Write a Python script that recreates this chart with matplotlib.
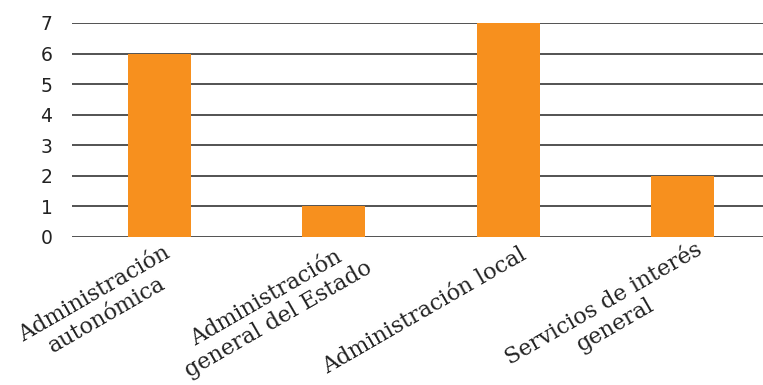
import matplotlib.pyplot as plt
from matplotlib import transforms

# Datos
categorias = ['Administración\nautonómica',
              'Administración\ngeneral del Estado',
              'Administración local',
              'Servicios de interés\ngeneral']
valores = [6, 1, 7, 2]

COLOR_BARRA = '#F7901E'
COLOR_GRID = '#444444'

# ajuste fino de la posición de cada etiqueta (px)
AJUSTE_ETIQUETAS = [(4, 0), (19, 6), (11, -2), (12, 3)]

fig = plt.figure(figsize=(7.63, 3.85), dpi=100)
ax = fig.add_axes([72 / 763, 1 - 237 / 385, (763 - 72) / 763, (237 - 23) / 385])

x = range(len(categorias))
ax.bar(x, valores, width=0.36, color=COLOR_BARRA, zorder=3)

ax.set_ylim(0, 7)
ax.set_xlim(-0.5, 3.46)
ax.set_yticks(range(0, 8))
ax.yaxis.grid(True, color=COLOR_GRID, linewidth=1.3, zorder=0)
ax.tick_params(axis='y', length=0, pad=14, labelsize=13.5, labelcolor='#222222')
ax.tick_params(axis='x', length=0)
for s in ax.spines.values():
    s.set_visible(False)

ax.set_xticks(list(x))
ax.set_xticklabels(categorias, rotation=30, ha='right', va='top',
                   rotation_mode='anchor', multialignment='center',
                   fontfamily='DejaVu Serif', fontsize=16, color='#222222',
                   linespacing=1.12)
for lbl, (dx, dy) in zip(ax.get_xticklabels(), AJUSTE_ETIQUETAS):
    offset = transforms.ScaledTranslation(dx / 100, dy / 100, fig.dpi_scale_trans)
    lbl.set_transform(lbl.get_transform() + offset)

fig.savefig('out.png', dpi=100)
